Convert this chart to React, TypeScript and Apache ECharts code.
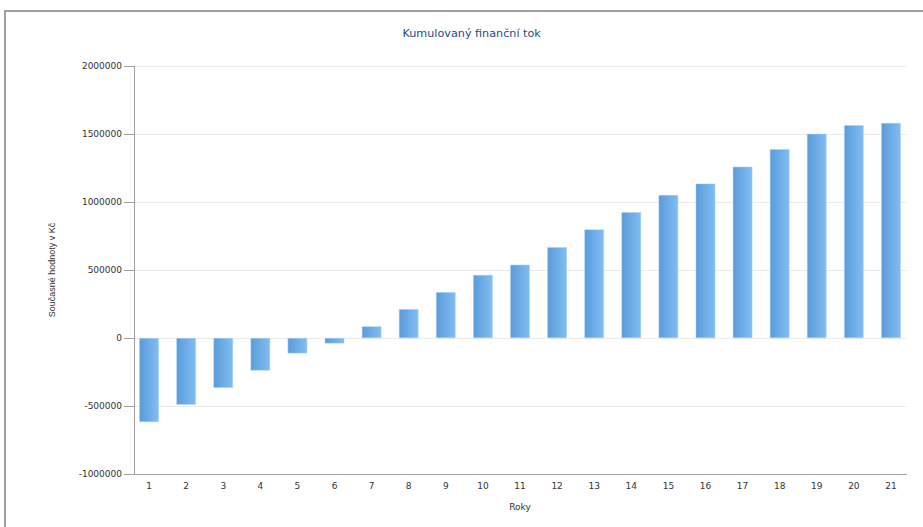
import React, { useEffect, useRef } from "react";
import * as echarts from "echarts";

const title = "Kumulovaný finanční tok";
const xAxisName = "Roky";
const yAxisName = "Současné hodnoty v Kč";
const years = ["1","2","3","4","5","6","7","8","9","10","11","12","13","14","15","16","17","18","19","20","21"];
const cumulativeFlow = [
  -618000, -490000, -366000, -239000, -113000, -40000, 85000, 212000, 337000, 463000,
  539000, 668000, 798000, 925000, 1051000, 1135000, 1259000, 1388000, 1501000, 1564000, 1581000,
];
const yMin = -1000000;
const yMax = 2000000;
const yStep = 500000;

export default function App() {
  const ref = useRef<HTMLDivElement>(null);
  useEffect(() => {
    if (!ref.current) return;
    const chart = echarts.init(ref.current, undefined, { renderer: "svg" });
    const font = "DejaVu Sans";
    const top = 66;
    const bottom = 53;
    chart.setOption({
      animation: false,
      backgroundColor: "#ffffff",
      title: {
        text: title,
        left: 397.5,
        top: 22.5,
        textStyle: { color: "#1d4d82", fontSize: 11.2, fontWeight: "normal", fontFamily: font },
      },
      graphic: [
        { type: "line", shape: { x1: 4, y1: 11, x2: 923, y2: 11 }, style: { stroke: "#a0a0a0", lineWidth: 2 } },
        { type: "line", shape: { x1: 5, y1: 10, x2: 5, y2: 527 }, style: { stroke: "#a0a0a0", lineWidth: 2 } },
      ],
      grid: [
        { left: 134, right: 16.5, top, bottom, containLabel: false },
        { left: 130.5, right: 13.5, top, bottom, containLabel: false },
      ],
      xAxis: [
        {
          type: "category",
          gridIndex: 0,
          data: years,
          axisLine: { onZero: false, lineStyle: { color: "#a0a0a0" } },
          axisTick: { show: false },
          axisLabel: { show: false },
        },
        {
          type: "category",
          gridIndex: 1,
          data: years,
          name: xAxisName,
          nameLocation: "middle",
          nameGap: 28,
          nameTextStyle: { color: "#333", fontSize: 9, fontFamily: font },
          axisLine: { show: false, onZero: false },
          axisTick: { alignWithLabel: true, length: 5, lineStyle: { color: "#a0a0a0" } },
          axisLabel: { color: "#333", fontSize: 9, fontFamily: font, margin: 7 },
        },
      ],
      yAxis: [
        {
          type: "value",
          gridIndex: 0,
          min: yMin,
          max: yMax,
          interval: yStep,
          name: yAxisName,
          nameLocation: "middle",
          nameGap: 78,
          nameRotate: 90,
          nameTextStyle: { color: "#333", fontSize: 9, fontFamily: "Liberation Sans" },
          axisLine: { show: true, lineStyle: { color: "#a0a0a0" } },
          axisTick: { show: true, length: 10, lineStyle: { color: "#a0a0a0" } },
          axisLabel: {
            color: "#333",
            fontSize: 9,
            fontFamily: font,
            margin: 12,
            formatter: (v: number) => String(v),
          },
          splitLine: { lineStyle: { color: "#ebebeb" } },
        },
        {
          type: "value",
          gridIndex: 1,
          min: yMin,
          max: yMax,
          interval: yStep,
          show: false,
          splitLine: { show: false },
        },
      ],
      series: [
        {
          type: "bar",
          xAxisIndex: 1,
          yAxisIndex: 1,
          data: cumulativeFlow,
          barWidth: 19.5,
          itemStyle: {
            color: new echarts.graphic.LinearGradient(0, 0, 1, 0, [
              { offset: 0, color: "#5a9bd9" },
              { offset: 1, color: "#80bdf3" },
            ]),
            borderColor: "#a9d3f5",
            borderWidth: 0.5,
          },
        },
      ],
    });
    return () => chart.dispose();
  }, []);
  return (
    <div style={{ position: "fixed", left: 0, top: 0, width: 923, height: 527, background: "#fff" }}>
      <div ref={ref} style={{ width: 923, height: 527 }} />
    </div>
  );
}
